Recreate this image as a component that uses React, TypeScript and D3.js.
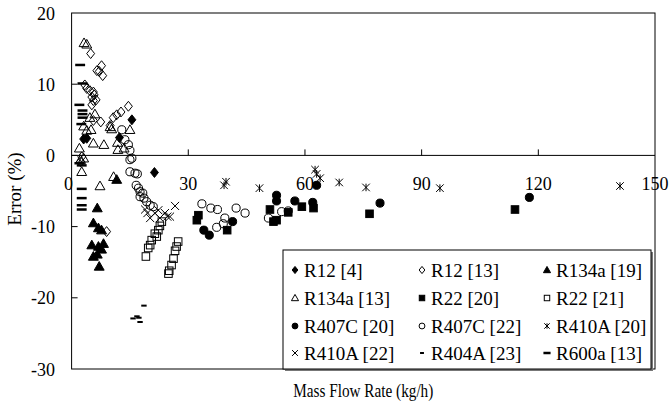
import React from "react";
import * as d3 from "d3";

// ---------- data (mass flow rate kg/h, error %) ----------
const r12_4: [number, number][] = [
  [3.1, 2.3], [3.9, 2.4], [12.3, 2.5], [15.5, 5.0], [21.3, -2.4],
];
const r12_13: [number, number][] = [
  [4.9, 14.3], [7.7, 12.6], [6.5, 11.9], [7.1, 11.8], [8.0, 11.2], [3.4, 9.9], [3.9, 9.4],
  [4.7, 9.1], [5.6, 8.9], [5.8, 8.5], [5.2, 8.2], [6.3, 7.8], [5.6, 7.7], [5.2, 7.1],
  [14.6, 6.9], [12.7, 6.1], [11.6, 5.7], [10.7, 5.3], [5.6, 4.9], [7.5, 4.7], [9.9, 4.2],
  [2.6, -0.2], [2.3, -0.9], [9.0, -10.7],
];
const r134a_19: [number, number][] = [
  [6.6, -7.4], [5.6, -9.5], [6.9, -10.2], [7.7, -10.5], [5.2, -12.6], [6.9, -12.8],
  [8.2, -12.4], [7.7, -13.2], [5.6, -14.2], [6.6, -13.9], [7.1, -15.6], [11.6, -3.4],
];
const r134a_13: [number, number][] = [
  [3.2, 15.8], [3.9, 15.6], [6.0, 5.8], [4.7, 5.3], [3.1, 4.1], [3.9, 3.5], [5.0, 3.6],
  [9.9, 4.0], [10.3, 3.7], [15.0, 3.6], [5.6, 1.7], [8.3, 1.5], [11.8, 1.8], [13.5, 1.0],
  [2.0, 1.0], [3.1, -0.4], [2.3, -0.6], [2.6, -2.3], [11.9, 0.8], [10.8, -3.0], [7.3, -4.3],
];
const r22_20: [number, number][] = [
  [32.6, -8.4], [32.2, -9.1], [40.0, -10.5], [51.0, -7.6], [51.9, -9.3], [52.7, -9.1],
  [55.7, -8.0], [59.2, -7.2], [62.2, -7.4], [76.6, -8.2], [114.0, -7.6],
];
const r22_21: [number, number][] = [
  [23.2, -9.3], [22.7, -9.9], [22.3, -10.5], [21.9, -11.4], [21.4, -11.0], [20.6, -11.9],
  [20.2, -12.6], [19.7, -13.0], [19.1, -14.2], [27.4, -12.1], [27.0, -12.8], [26.6, -13.4],
  [26.2, -14.5], [25.7, -15.4], [25.1, -16.2], [24.9, -16.6],
];
const r407c_20: [number, number][] = [
  [34.0, -10.5], [35.4, -11.2], [41.4, -9.3], [52.7, -5.6], [52.7, -6.4], [57.4, -6.4],
  [62.0, -6.6], [63.0, -4.2], [79.3, -6.7], [117.7, -5.9],
];
const r407c_22: [number, number][] = [
  [12.9, 3.6], [13.7, 2.2], [14.6, 1.5], [15.5, -0.4], [15.0, 0.7], [15.0, -0.6],
  [15.0, -2.3], [16.3, -2.5], [16.9, -2.6], [16.6, -4.2], [17.2, -4.6], [17.6, -5.1],
  [18.3, -5.3], [17.6, -5.8], [18.6, -6.0], [19.3, -6.5], [20.2, -7.0], [21.0, -7.2],
  [33.5, -6.8], [35.8, -7.4], [37.5, -7.6], [42.3, -7.4], [44.6, -8.1], [39.4, -8.8],
  [39.0, -9.6], [37.3, -10.1], [50.6, -8.8], [54.0, -7.9], [55.7, -7.8],
];
const r410a_20: [number, number][] = [
  [39.7, -3.7], [39.2, -4.2], [48.3, -4.6], [62.6, -2.0], [63.0, -2.6], [63.9, -3.2],
  [68.8, -3.8], [75.7, -4.5], [94.7, -4.6], [141.0, -4.3],
];
const r410a_22: [number, number][] = [
  [18.9, -7.6], [19.5, -8.1], [20.2, -8.8], [21.4, -8.1], [22.3, -7.7], [22.7, -8.8],
  [24.0, -8.1], [24.6, -8.6], [26.6, -7.1], [25.3, -8.6],
];
const r404a_23: [number, number][] = [
  [18.6, -21.1], [15.8, -22.9], [16.8, -22.6], [17.3, -22.8], [17.6, -23.4],
];
const r600a_13: [number, number][] = [
  [2.2, 12.7], [2.8, 10.1], [2.0, 7.1], [2.8, 6.3], [2.8, 5.8], [2.8, 5.3], [2.5, 4.4],
  [2.0, -1.1], [2.6, -1.4], [2.6, -4.7], [2.6, -6.0], [2.6, -7.0], [2.6, -7.6],
];

const xTicks = [0, 30, 60, 90, 120, 150];
const yTicks = [20, 10, 0, -10, -20, -30];

type MarkerKind =
  | "diamondF" | "diamondO" | "triF" | "triO" | "sqF" | "sqO"
  | "circF" | "circO" | "aster" | "cross" | "dashS" | "dashL";

const seriesList: { name: string; kind: MarkerKind; data: [number, number][] }[] = [
  { name: "R12 [4]", kind: "diamondF", data: r12_4 },
  { name: "R12 [13]", kind: "diamondO", data: r12_13 },
  { name: "R134a [19]", kind: "triF", data: r134a_19 },
  { name: "R134a [13]", kind: "triO", data: r134a_13 },
  { name: "R22 [20]", kind: "sqF", data: r22_20 },
  { name: "R22 [21]", kind: "sqO", data: r22_21 },
  { name: "R407C [20]", kind: "circF", data: r407c_20 },
  { name: "R407C [22]", kind: "circO", data: r407c_22 },
  { name: "R410A [20]", kind: "aster", data: r410a_20 },
  { name: "R410A [22]", kind: "cross", data: r410a_22 },
  { name: "R404A [23]", kind: "dashS", data: r404a_23 },
  { name: "R600a [13]", kind: "dashL", data: r600a_13 },
];

const W = 669;
const H = 406;
const left = 71.6, right = 655, top = 13, bottom = 369;
const FONT = "Liberation Serif, Times New Roman, DejaVu Serif, serif";

function Marker({ kind, x, y, s }: { kind: MarkerKind; x: number; y: number; s: number }) {
  const sw = 1;
  switch (kind) {
    case "diamondF":
    case "diamondO": {
      const r = s * 0.55;
      const p = `M${x},${y - r}L${x + r * 0.8},${y}L${x},${y + r}L${x - r * 0.8},${y}Z`;
      return <path d={p} fill={kind === "diamondF" ? "#000" : "none"} stroke="#000" strokeWidth={sw} />;
    }
    case "triF":
    case "triO": {
      const r = s * 0.55;
      const p = `M${x},${y - r}L${x + r},${y + r * 0.75}L${x - r},${y + r * 0.75}Z`;
      return <path d={p} fill={kind === "triF" ? "#000" : "none"} stroke="#000" strokeWidth={sw} />;
    }
    case "sqF":
    case "sqO": {
      const r = s * 0.42;
      return <rect x={x - r} y={y - r} width={2 * r} height={2 * r}
        fill={kind === "sqF" ? "#000" : "none"} stroke="#000" strokeWidth={sw} />;
    }
    case "circF":
    case "circO": {
      const r = s * 0.45;
      return <circle cx={x} cy={y} r={r} fill={kind === "circF" ? "#000" : "none"} stroke="#000" strokeWidth={sw} />;
    }
    case "aster": {
      const r = s * 0.42;
      return <path d={`M${x - r},${y - r}L${x + r},${y + r}M${x + r},${y - r}L${x - r},${y + r}M${x},${y - r}L${x},${y + r}`}
        stroke="#000" strokeWidth={sw} fill="none" />;
    }
    case "cross": {
      const r = s * 0.45;
      return <path d={`M${x - r},${y - r}L${x + r},${y + r}M${x + r},${y - r}L${x - r},${y + r}`}
        stroke="#000" strokeWidth={sw} fill="none" />;
    }
    case "dashS": {
      const r = s * 0.3;
      return <line x1={x - r} x2={x + r} y1={y} y2={y} stroke="#000" strokeWidth={2} />;
    }
    case "dashL": {
      const r = s * 0.55;
      return <line x1={x - r} x2={x + r} y1={y} y2={y} stroke="#000" strokeWidth={2.5} />;
    }
  }
  return null;
}

export default function App() {
  const x = d3.scaleLinear().domain([0, 150]).range([left, right]);
  const y = d3.scaleLinear().domain([-30, 20]).range([bottom, top]);
  const y0 = y(0);

  const legendX = 283, legendY = 250, legendW = 368, legendH = 119;
  const colX = [295, 422, 547];
  const rowY = [270, 298, 326, 353];
  const tf = { fontFamily: FONT, fill: "#000" };

  return (
    <svg width={W} height={H} style={{ position: "absolute", left: 0, top: 0, background: "#fff" }}>
      <rect x={0} y={0} width={W} height={H} fill="#fff" />
      {/* plot frame */}
      <rect x={left} y={top} width={right - left} height={bottom - top} fill="none" stroke="#000" strokeWidth={1} />
      {/* zero line */}
      <line x1={left} x2={right} y1={y0} y2={y0} stroke="#000" strokeWidth={1} />
      {/* x ticks pointing up from zero line */}
      {xTicks.filter((t) => t > 0 && t < 150).map((t) => (
        <line key={"xt" + t} x1={x(t)} x2={x(t)} y1={y0} y2={y0 - 6} stroke="#000" strokeWidth={1} />
      ))}
      {/* y ticks inward */}
      {yTicks.filter((t) => t > -30 && t < 20).map((t) => (
        <line key={"yt" + t} x1={left} x2={left + 6} y1={y(t)} y2={y(t)} stroke="#000" strokeWidth={1} />
      ))}
      {/* y tick labels */}
      {yTicks.map((t) => (
        <text key={"yl" + t} x={55} y={y(t) + 6.5} textAnchor="end" fontSize={18} style={tf}>{t}</text>
      ))}
      {/* x tick labels */}
      {xTicks.map((t) => (
        <text key={"xl" + t} x={x(t) - (t === 0 ? 3 : 0)} y={189.5} textAnchor="middle" fontSize={18} style={tf}>{t}</text>
      ))}
      {/* axis titles */}
      <text x={(left + right) / 2} y={397} textAnchor="middle" fontSize={18.5}
        textLength={140} lengthAdjust="spacingAndGlyphs" style={tf}>Mass Flow Rate (kg/h)</text>
      <text transform={`translate(21,189) rotate(-90)`} textAnchor="middle" fontSize={19} style={tf}>Error (%)</text>

      {/* points */}
      {seriesList.map((s) => (
        <g key={s.name}>
          {s.data.map((d, i) => (
            <Marker key={i} kind={s.kind} x={x(d[0])} y={y(d[1])} s={9} />
          ))}
        </g>
      ))}

      {/* legend */}
      <rect x={legendX + 2} y={legendY + 2} width={legendW} height={legendH} fill="#777" />
      <rect x={legendX} y={legendY} width={legendW} height={legendH} fill="#fff" stroke="#000" strokeWidth={1} />
      {seriesList.map((s, i) => {
        const cx = colX[i % 3];
        const cy = rowY[Math.floor(i / 3)];
        return (
          <g key={"lg" + s.name}>
            <Marker kind={s.kind} x={cx} y={cy} s={6.5} />
            <text x={cx + 9} y={cy + 6.5} fontSize={19} style={tf}>{s.name}</text>
          </g>
        );
      })}
    </svg>
  );
}
